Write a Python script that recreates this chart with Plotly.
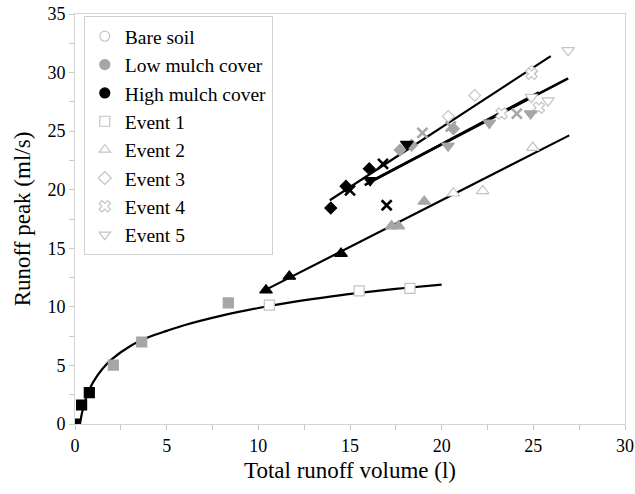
import plotly.graph_objects as go

# ---------------- data ----------------
# cover classes for each point: H = high mulch, L = low mulch, B = bare soil
e1_x = [0.0, 0.36, 0.78, 2.09, 3.64, 8.36, 10.6, 15.5, 18.27]
e1_y = [0.0, 1.62, 2.67, 5.03, 7.0, 10.34, 10.14, 11.36, 11.57]
e1_c = ["H", "H", "H", "L", "L", "L", "B", "B", "B"]

e2_x = [10.42, 11.69, 14.51, 17.27, 17.64, 19.05, 20.64, 22.24, 24.97]
e2_y = [11.42, 12.6, 14.55, 16.9, 16.9, 19.0, 19.7, 19.9, 23.6]
e2_c = ["H", "H", "H", "L", "L", "L", "B", "B", "B"]

e3_x = [13.95, 14.78, 16.05, 17.73, 18.36, 20.64, 20.36, 21.8, 24.9]
e3_y = [18.44, 20.3, 21.8, 23.4, 23.8, 25.2, 26.26, 28.05, 30.1]
e3_c = ["H", "H", "H", "L", "L", "L", "B", "B", "B"]

e4_x = [15.0, 16.8, 17.0, 18.95, 20.5, 24.1, 23.27, 25.3, 24.9]
e4_y = [19.95, 22.2, 18.67, 24.85, 25.4, 26.5, 26.5, 27.0, 29.9]
e4_c = ["H", "H", "H", "L", "L", "L", "B", "B", "B"]

e5_x = [16.1, 18.1, 20.35, 22.6, 24.85, 24.9, 25.8, 26.9]
e5_y = [20.8, 23.9, 23.75, 25.7, 26.5, 27.9, 27.6, 31.9]
e5_c = ["H", "H", "L", "L", "L", "B", "B", "B"]

# trend lines
e1_fit_x = [0.27, 0.4, 0.6, 0.8, 1.0, 1.5, 2.0, 3.0, 4.0, 5.0, 6.0, 8.0, 10.0, 12.0, 14.0, 16.0, 18.0, 20.0]
e1_fit_y = [0.0, 1.06, 2.18, 2.98, 3.6, 4.72, 5.52, 6.64, 7.4, 7.95, 8.45, 9.25, 9.9, 10.45, 10.9, 11.28, 11.61, 11.9]
e2_fit_x = [10.18, 26.96]
e2_fit_y = [11.28, 24.64]
e3_fit_x = [13.9, 25.95]
e3_fit_y = [19.1, 31.4]
e4_fit_x = [15.8, 25.3]
e4_fit_y = [20.4, 28.3]
e5_fit_x = [16.0, 26.9]
e5_fit_y = [20.6, 29.5]

x_ticks = [0, 5, 10, 15, 20, 25, 30]
y_ticks = [0, 5, 10, 15, 20, 25, 30, 35]

# ---------------- styling ----------------
FONT = "Liberation Serif, Times New Roman, serif"
LIGHT = "#c4c4c4"
GRAY = "#a6a6a6"
FILL = {"B": "white", "L": GRAY, "H": "black"}
EDGE = {"B": LIGHT, "L": GRAY, "H": "black"}

fig = go.Figure()

# fitted lines first (markers are drawn above them)
for fx, fy, w, shape in [
    (e1_fit_x, e1_fit_y, 2.2, "spline"),
    (e2_fit_x, e2_fit_y, 2.2, "linear"),
    (e3_fit_x, e3_fit_y, 2.2, "linear"),
    (e4_fit_x, e4_fit_y, 2.6, "linear"),
    (e5_fit_x, e5_fit_y, 2.6, "linear"),
]:
    fig.add_trace(go.Scatter(x=fx, y=fy, mode="lines", line=dict(color="black", width=w, shape=shape),
                             showlegend=False, hoverinfo="skip"))

events = [
    (e1_x, e1_y, e1_c, "square", 10),
    (e2_x, e2_y, e2_c, "triangle-up", 11),
    (e3_x, e3_y, e3_c, "diamond", 9),
    (e4_x, e4_y, e4_c, "x", 10),
    (e5_x, e5_y, e5_c, "triangle-down", 11),
]

for xs, ys, cs, sym, size in events:
    for cov in ["B", "L", "H"]:
        px = [x for x, c in zip(xs, cs) if c == cov]
        py = [y for y, c in zip(ys, cs) if c == cov]
        if not px:
            continue
        if sym == "x" and cov != "B":
            mk = dict(symbol="x-thin", size=size, line=dict(color=EDGE[cov], width=2.6), color=EDGE[cov])
        else:
            mk = dict(symbol=sym, size=size, color=FILL[cov], line=dict(color=EDGE[cov], width=1.2))
        fig.add_trace(go.Scatter(x=px, y=py, mode="markers", marker=mk, showlegend=False))

# legend-only entries
legend_items = [
    ("Bare soil", "circle", "white", LIGHT),
    ("Low mulch cover", "circle", GRAY, GRAY),
    ("High mulch cover", "circle", "black", "black"),
    ("Event 1", "square", "white", LIGHT),
    ("Event 2", "triangle-up", "white", LIGHT),
    ("Event 3", "diamond", "white", LIGHT),
    ("Event 4", "x", "white", LIGHT),
    ("Event 5", "triangle-down", "white", LIGHT),
]
for name, sym, fc, lc in legend_items:
    fig.add_trace(go.Scatter(x=[None], y=[None], mode="markers", name=name,
                             marker=dict(symbol=sym, size=10, color=fc, line=dict(color=lc, width=1.2))))

axis_common = dict(
    showgrid=False, zeroline=False, showline=True, linecolor="#d4d4d4", linewidth=1, mirror=True,
    ticks="outside", ticklen=5, tickcolor="#c8c8c8", tickwidth=1, automargin=False,
    tickfont=dict(family=FONT, size=18, color="black"),
    minor=dict(ticks="outside", ticklen=5, tickcolor="#c8c8c8", dtick=2.5),
)

fig.update_layout(
    width=635, height=494,
    margin=dict(l=75, r=10, t=14, b=70),
    paper_bgcolor="white", plot_bgcolor="white",
    font=dict(family=FONT, color="black"),
    xaxis=dict(range=[0, 30], tickvals=x_ticks, dtick=5,
               title=dict(text="Total runoff volume (l)", font=dict(family=FONT, size=23), standoff=7),
               **axis_common),
    yaxis=dict(range=[0, 35], tickvals=y_ticks, dtick=5,
               title=dict(text="Runoff peak (ml/s)", font=dict(family=FONT, size=23), standoff=10),
               **axis_common),
    legend=dict(x=0.016, y=0.995, xanchor="left", yanchor="top", bgcolor="white",
                bordercolor="#d0d0d0", borderwidth=1, font=dict(family=FONT, size=19.5, color="black"),
                itemwidth=30, tracegroupgap=0),
    showlegend=True,
)

fig.write_html("out.html")
